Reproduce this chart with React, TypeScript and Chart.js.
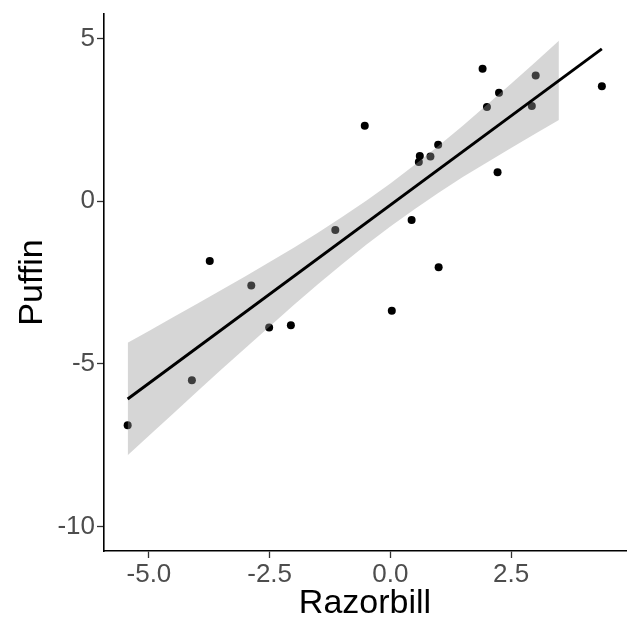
import React, { useEffect, useRef } from "react";
import { Chart, registerables } from "chart.js";

Chart.register(...registerables);

// Observed points (Razorbill, Puffin)
const razorbill = [-5.44, -4.11, -3.74, -2.88, -2.51, -2.06, -1.14, -0.53, 0.03, 0.44, 0.61, 0.59, 0.83, 0.99, 1.0, 1.91, 2.0, 2.25, 2.22, 3.01, 2.93, 4.38];
const puffin = [-6.89, -5.5, -1.84, -2.59, -3.88, -3.81, -0.89, 2.32, -3.37, -0.58, 1.39, 1.2, 1.37, 1.73, -2.03, 4.07, 2.89, 3.33, 0.89, 3.86, 2.92, 3.53];

// Fitted line end points
const fitX = [-5.44, 4.38];
const fitY = [-6.08, 4.68];

// Confidence band
const bandX = [-5.44, -5.0, -4.5, -4.0, -3.5, -3.0, -2.5, -2.0, -1.5, -1.0, -0.5, 0.0, 0.5, 1.0, 1.5, 2.0, 2.5, 3.0, 3.49];
const bandLow = [-7.81, -7.21, -6.53, -5.85, -5.17, -4.51, -3.85, -3.19, -2.55, -1.94, -1.34, -0.78, -0.25, 0.26, 0.74, 1.19, 1.63, 2.07, 2.49];
const bandHigh = [-4.35, -3.99, -3.57, -3.15, -2.73, -2.31, -1.87, -1.43, -0.97, -0.49, 0.01, 0.54, 1.11, 1.7, 2.32, 2.96, 3.61, 4.27, 4.93];

const xTicks = [-5.0, -2.5, 0.0, 2.5];
const yTicks = [-10, -5, 0, 5];
const xTitle = "Razorbill";
const yTitle = "Puffin";

export default function App() {
  const ref = useRef<HTMLCanvasElement | null>(null);
  useEffect(() => {
    if (!ref.current) return;
    const FONT = "'Liberation Sans', Arial, sans-serif";
    Chart.defaults.font.family = FONT;
    const chart = new Chart(ref.current, {
      type: "scatter",
      data: {
        datasets: [
          {
            type: "scatter",
            data: razorbill.map((x, i) => ({ x, y: puffin[i] })),
            backgroundColor: "#000000",
            borderWidth: 0,
            pointRadius: 4,
            order: 3,
          } as any,
          {
            type: "line",
            data: bandX.map((x, i) => ({ x, y: bandLow[i] })),
            borderWidth: 0,
            pointRadius: 0,
            fill: false,
            order: 2,
          } as any,
          {
            type: "line",
            data: bandX.map((x, i) => ({ x, y: bandHigh[i] })),
            borderWidth: 0,
            pointRadius: 0,
            backgroundColor: "rgba(153,153,153,0.4)",
            fill: 1,
            order: 1,
          } as any,
          {
            type: "line",
            data: fitX.map((x, i) => ({ x, y: fitY[i] })),
            borderColor: "#000000",
            borderWidth: 2.9,
            pointRadius: 0,
            fill: false,
            order: 0,
          } as any,
        ],
      },
      options: {
        responsive: false,
        animation: false,
        layout: { padding: { left: 0, top: 14, right: 3, bottom: 0 } },
        plugins: { legend: { display: false }, tooltip: { enabled: false } },
        scales: {
          x: {
            type: "linear",
            min: -5.93,
            max: 4.88,
            afterFit: (s: any) => { s.height = 70; s.paddingLeft = 0; s.paddingRight = 0; },
            afterBuildTicks: (s: any) => { s.ticks = xTicks.map((v) => ({ value: v })); },
            grid: { drawOnChartArea: false, drawTicks: true, tickLength: 7, tickColor: "#333333", tickWidth: 1.3 },
            border: { display: true, color: "#000000", width: 1.6 },
            ticks: {
              color: "#4D4D4D",
              font: { size: 26, family: FONT },
              padding: 1,
              maxRotation: 0,
              callback: (v: any) => Number(v).toFixed(1),
            },
            title: {
              display: true,
              text: xTitle,
              color: "#000000",
              font: { size: 34, family: FONT, lineHeight: 1 },
              padding: { top: 0, bottom: 0 },
            },
          },
          y: {
            type: "linear",
            min: -10.75,
            max: 5.75,
            afterFit: (s: any) => { s.width = 104; s.paddingTop = 0; s.paddingBottom = 0; },
            afterBuildTicks: (s: any) => { s.ticks = yTicks.map((v) => ({ value: v })); },
            grid: { drawOnChartArea: false, drawTicks: true, tickLength: 7, tickColor: "#333333", tickWidth: 1.3 },
            border: { display: true, color: "#000000", width: 1.6 },
            ticks: {
              color: "#4D4D4D",
              font: { size: 26, family: FONT },
              padding: 2,
              callback: (v: any) => String(v),
            },
            title: {
              display: true,
              text: yTitle,
              color: "#000000",
              font: { size: 34, family: FONT, lineHeight: 1 },
              padding: { top: 16, bottom: 0 },
            },
          },
        },
      },
    } as any);
    return () => chart.destroy();
  }, []);
  return (
    <div style={{ position: "absolute", left: 0, top: 0, width: 630, height: 621, background: "#ffffff" }}>
      <canvas ref={ref} width={630} height={621} style={{ display: "block" }} />
    </div>
  );
}
